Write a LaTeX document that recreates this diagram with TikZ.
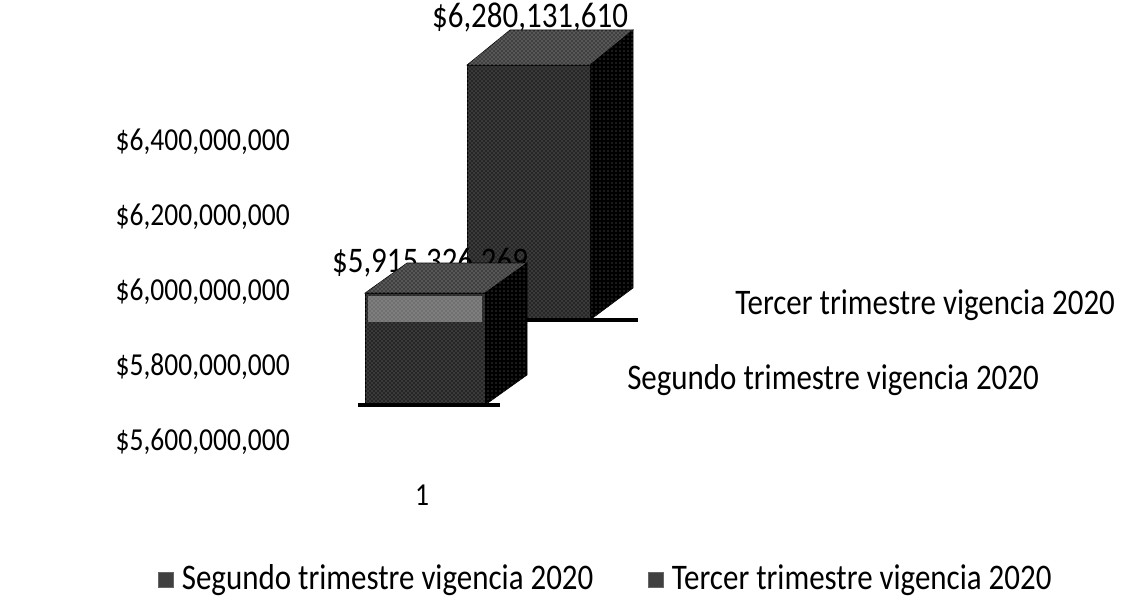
\documentclass[tikz,border=0pt]{standalone}
\usepackage{fontspec}
\setmainfont{Carlito}
\newfontfamily\scanfont{Carlito}[FakeStretch=0.86]
\usetikzlibrary{positioning,patterns}

\tikzset{
  axislabel/.style={anchor=east, inner sep=0pt},
  serieslabel/.style={anchor=west, inner sep=0pt},
  bigtext/.style={font=\scanfont\fontsize{27}{30}\selectfont},
  frontface/.style={fill=black!85, draw=black, postaction={pattern=crosshatch dots, pattern color=white!50!black}},
  topface/.style={fill=black!75, draw=black, postaction={pattern=crosshatch dots, pattern color=white!65!black}},
  sideface/.style={fill=black, draw=black, postaction={pattern=dots, pattern color=black!55}},
  legendbox/.style={fill=black!75, draw=black!60, minimum size=11pt, inner sep=0pt}
}

\begin{document}
\begin{tikzpicture}[x=0.75pt,y=-0.75pt,font=\scanfont\fontsize{24}{27}\selectfont]
\useasboundingbox (0,0) rectangle (1123,599);
% value axis
\node[axislabel] (v6400) at (290,142) {\$6,400,000,000};
\node[axislabel] (v6200) at (290,217) {\$6,200,000,000};
\node[axislabel] (v6000) at (290,292) {\$6,000,000,000};
\node[axislabel] (v5800) at (290,367) {\$5,800,000,000};
\node[axislabel] (v5600) at (290,442) {\$5,600,000,000};
\node[] (cat1) at (422,495) {1};
% depth axis labels
\node[serieslabel, bigtext] (s3) at (735,305) {Tercer trimestre vigencia 2020};
\node[serieslabel, bigtext] (s2) at (627,380) {Segundo trimestre vigencia 2020};
% tercer trimestre (back bar)
\node[bigtext] (val3) at (530,18) {\$6,280,131,610};
\path[topface] (467,65) -- (510,30) -- (633,30) -- (590,65) -- cycle;
\path[sideface] (590,65) -- (633,30) -- (633,288) -- (590,320) -- cycle;
\path[frontface] (467,65) rectangle (590,320);
\draw[line width=2.5pt] (462,320) -- (638,320);
% segundo trimestre (front bar)
\node[bigtext] (val2) at (430,263) {\$5,915,326,269};
\path[topface] (365,293) -- (407,263) -- (527,263) -- (485,293) -- cycle;
\path[sideface] (485,293) -- (527,263) -- (527,375) -- (485,405) -- cycle;
\path[frontface] (365,293) rectangle (485,405);
\path[fill=white, opacity=0.35] (368,296) rectangle (482,322);
\draw[line width=2.5pt] (358,405) -- (500,405);
% legend
\node[legendbox] (key2) at (166,580) {};
\node[serieslabel, bigtext, right=6pt of key2] (leg2) {Segundo trimestre vigencia 2020};
\node[legendbox] (key3) at (656,580) {};
\node[serieslabel, bigtext, right=6pt of key3] (leg3) {Tercer trimestre vigencia 2020};
\end{tikzpicture}
\end{document}
